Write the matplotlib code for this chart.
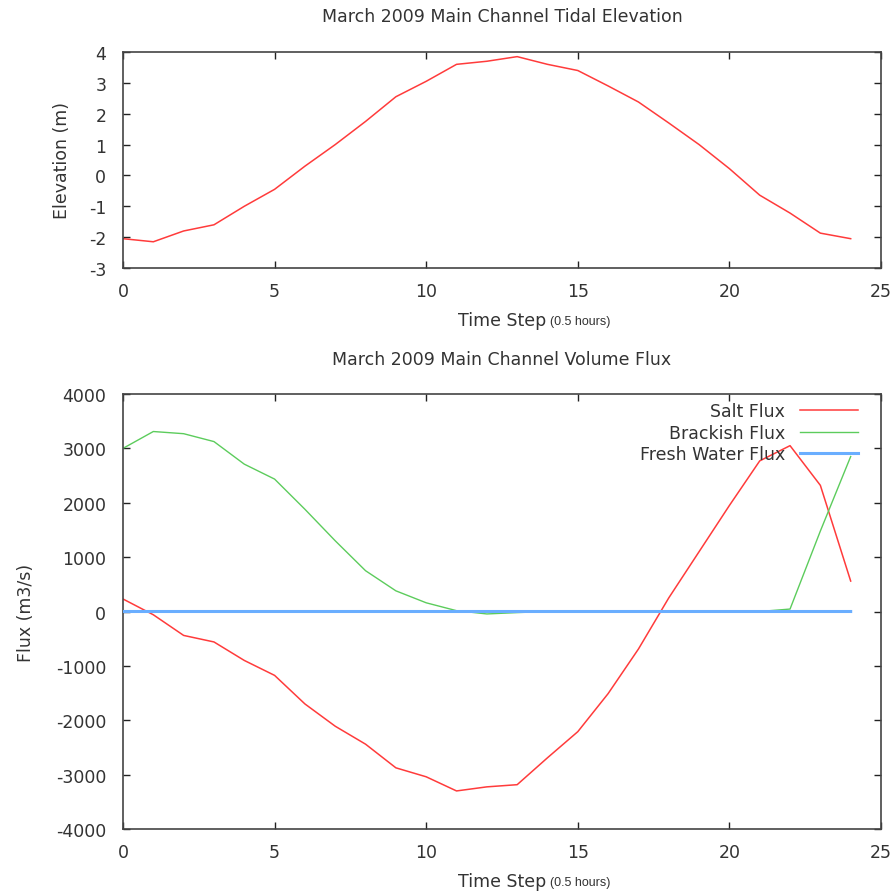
import matplotlib
matplotlib.use("Agg")
import matplotlib.pyplot as plt

plt.rcParams['font.family'] = ['DejaVu Sans']
plt.rcParams['axes.unicode_minus'] = False

# Data
steps = list(range(25))
elevation = [-2.05, -2.15, -1.8, -1.6, -1.0, -0.45, 0.3, 1.0, 1.75, 2.55, 3.05,
             3.6, 3.7, 3.85, 3.6, 3.4, 2.9, 2.38, 1.7, 1.0, 0.22, -0.64, -1.22,
             -1.87, -2.05]
salt_flux = [230, -60, -440, -560, -900, -1175, -1700, -2110, -2440, -2875, -3040,
             -3300, -3225, -3185, -2690, -2210, -1510, -690, 250, 1100, 1950,
             2770, 3050, 2320, 560]
brackish_flux = [3000, 3310, 3270, 3125, 2710, 2435, 1880, 1300, 750, 380, 160,
                 15, -45, -20, 0, 0, 0, 0, 0, 0, 0, 0, 45, 1480, 2850]
fresh_flux = [0] * 25

titles = ["March 2009 Main Channel Tidal Elevation", "March 2009 Main Channel Volume Flux"]
series_labels = ["Salt Flux", "Brackish Flux", "Fresh Water Flux"]

RED = "#ff3b3b"
GREEN = "#5ccc5c"
BLUE = "#6aaeff"
TXT = "#333333"
FS = 12.5

W, H = 896, 895
fig = plt.figure(figsize=(W / 100, H / 100), dpi=100)

def rect(l, t, r, b):
    return [l / W, 1 - b / H, (r - l) / W, (b - t) / H]

ax1 = fig.add_axes(rect(123, 53, 881, 269))
ax2 = fig.add_axes(rect(123, 395, 881, 830))

def style(ax):
    ax.tick_params(direction='in', top=True, right=True, length=5, width=1,
                   colors='#222222', labelcolor=TXT, labelsize=FS)
    ax.tick_params(axis='y', pad=12)
    ax.tick_params(axis='x', pad=10)
    for s in ax.spines.values():
        s.set_color('#444444')
        s.set_linewidth(1.2)

# Top panel
ax1.plot(steps, elevation, color=RED, lw=1.1)
ax1.set_xlim(0, 25)
ax1.set_ylim(-3, 4)
ax1.set_xticks([0, 5, 10, 15, 20, 25])
ax1.set_yticks(range(-3, 5))
style(ax1)
ax1.set_ylabel("Elevation (m)", fontsize=FS, color=TXT, labelpad=13)
ax1.set_xlabel("Time Step", fontsize=FS, color=TXT, labelpad=8)

# Bottom panel
ax2.plot(steps, salt_flux, color=RED, lw=1.1, label=series_labels[0], zorder=2)
lg, = ax2.plot(steps, brackish_flux, color=GREEN, lw=1.0, label=series_labels[1], zorder=2)
lb, = ax2.plot(steps, fresh_flux, color=BLUE, lw=2.2, label=series_labels[2], zorder=3)
lg.set_snap(False)
lb.set_snap(False)
ax2.set_xlim(0, 25)
ax2.set_ylim(-4000, 4000)
ax2.set_xticks([0, 5, 10, 15, 20, 25])
ax2.set_yticks(range(-4000, 4001, 1000))
style(ax2)
ax2.set_ylabel("Flux (m3/s)", fontsize=FS, color=TXT, labelpad=15)
ax2.set_xlabel("Time Step", fontsize=FS, color=TXT, labelpad=8)
leg = ax2.legend(loc='upper right', frameon=False, markerfirst=False, fontsize=FS,
                 handlelength=3.3, handletextpad=0.9, labelspacing=0.2,
                 borderaxespad=0.2, bbox_to_anchor=(0.983, 1.005))
for t in leg.get_texts():
    t.set_color(TXT)

# Titles
fig.text(502 / W, 1 - 17 / H, titles[0], fontsize=FS, color=TXT, ha='center', va='center')
fig.text(502 / W, 1 - 360 / H, titles[1], fontsize=FS, color=TXT, ha='center', va='center')

# x-label suffix in smaller font, placed just after "Time Step"
fig.canvas.draw()
for ax in (ax1, ax2):
    lab = ax.xaxis.label
    bb = lab.get_window_extent()
    x = bb.x1 + 4
    y = bb.y0 + 2
    fig.text(x / W, y / H, "(0.5 hours)", fontsize=9, color=TXT,
             family='Liberation Sans', ha='left', va='bottom')

fig.savefig("out.png", dpi=100)
